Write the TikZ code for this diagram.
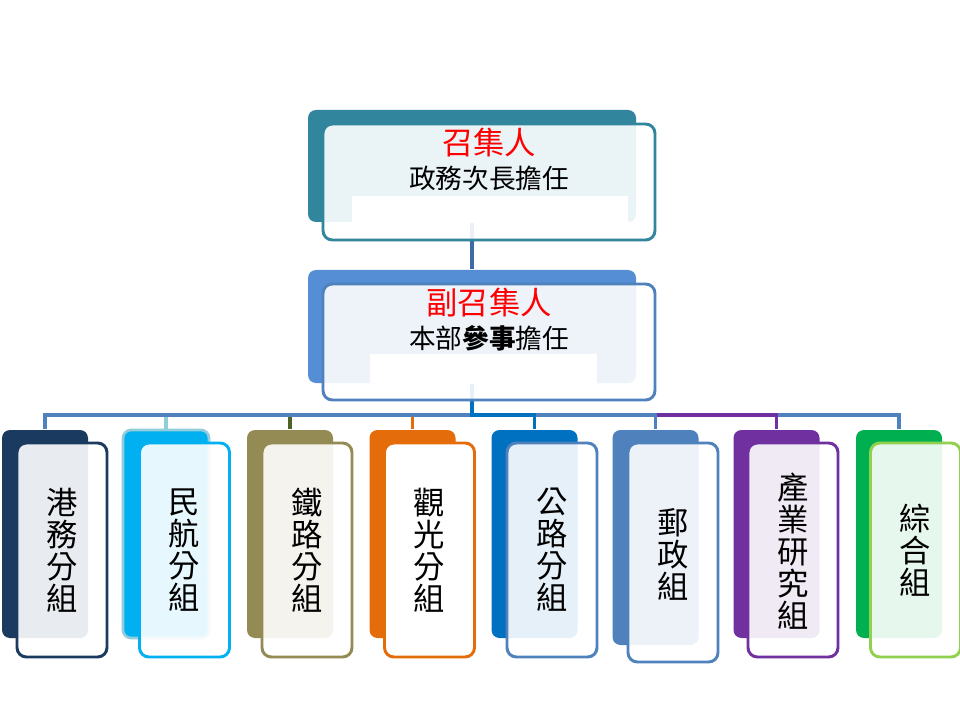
\documentclass[tikz,border=0pt]{standalone}
\usepackage{fontspec}
\setmainfont{Noto Sans CJK TC}
\usetikzlibrary{backgrounds}
\definecolor{c0}{HTML}{31859C}
\definecolor{s0}{HTML}{558ED5}
\definecolor{s0f}{HTML}{4F81BD}
\definecolor{c1}{HTML}{1B3A5F}
\definecolor{c2}{HTML}{00B0F0}
\definecolor{c2o}{HTML}{92CDDC}
\definecolor{c3}{HTML}{948A54}
\definecolor{c3s}{HTML}{4F6228}
\definecolor{c4}{HTML}{E46C0A}
\definecolor{c5}{HTML}{0070C0}
\definecolor{c5f}{HTML}{4F81BD}
\definecolor{c6}{HTML}{4F81BD}
\definecolor{c7}{HTML}{7030A0}
\definecolor{c8}{HTML}{00B050}
\definecolor{c8f}{HTML}{92D050}
\definecolor{cg}{HTML}{4F81BD}
\definecolor{ctop}{HTML}{3F6AA3}
\begin{document}
\begin{tikzpicture}[x=0.75pt,y=-0.75pt,
  back/.style={rounded corners=6pt, inner sep=0pt, line width=2pt},
  front/.style={rounded corners=7pt, line width=2.2pt, inner sep=0pt},
  conn/.style={line width=2.4pt},
  ttl/.style={font=\fontsize{23.5}{26}\selectfont, text=red, inner sep=0pt},
  sub/.style={font=\fontsize{20}{24}\selectfont, inner sep=0pt},
  vt/.style={font=\fontsize{23.5}{24}\selectfont, align=center, inner sep=0pt},
]
\begin{scope}[on background layer]
  \fill[white] (0,0) rectangle (960,720);
\end{scope}
\useasboundingbox (0,0) rectangle (960,720);

% top box
\node[back, fill=c0, minimum width=246pt, minimum height=84pt] (tb) at (472,166) {};
\node[front, draw=c0, fill=white, fill opacity=0.9, minimum width=249pt, minimum height=87pt] (tf) at (489,182) {};
\fill[white] (352,196) rectangle (628,222);
\node[ttl] (tt) at (489,143) {召集人};
\node[sub] (ts) at (489,178) {政務次長擔任};

% second box
\node[back, fill=s0, minimum width=246pt, minimum height=84.75pt] (sb) at (472,326.5) {};
\node[front, draw=s0f, fill=white, fill opacity=0.9, minimum width=249pt, minimum height=87pt] (sf) at (489,342) {};
\fill[white] (370,354) rectangle (597,383);
\node[ttl] (st) at (489,303) {副召集人};
\node[sub] (ss) at (489,338) {本部\textbf{參事}擔任};

% children
\foreach \n/\bx/\fx/\by/\bh/\fy/\fh/\bc/\bd/\fc/\op/\ty/\txt in {
  1/45/62/534/156/550/160.5/c1/none/c1/0.9/550/{港\\務\\分\\組},
  2/166/184.5/534/156/550/160.5/c2/c2o/c2/0.9/550/{民\\航\\分\\組},
  3/290/307/534/156/550/160.5/c3/none/c3/0.9/550/{鐵\\路\\分\\組},
  4/412.5/429.5/534/156/550/160.5/c4/none/c4/1/550/{觀\\光\\分\\組},
  5/534.5/552/534/156/550/160.5/c5/none/c5f/0.9/550/{公\\路\\分\\組},
  6/655.5/673/537.5/161.25/552.5/164.25/c6/none/c6/0.9/554/{郵\\政\\組},
  7/776.5/793/534/156/550/160.5/c7/none/c7/0.9/551.5/{產\\業\\研\\究\\組},
  8/899/915.5/534/156/550/160.5/c8/none/c8f/0.9/550.5/{綜\\合\\組}}
{
  \node[back, fill=\bc, draw=\bd, minimum width=64.5pt, minimum height=\bh pt] (b\n) at (\bx,\by) {};
  \node[front, draw=\fc, fill=white, fill opacity=\op, minimum width=67.5pt, minimum height=\fh pt] (f\n) at (\fx,\fy) {};
  \node[vt] (t\n) at (\fx,\ty) {\txt};
}

% connectors
\coordinate (bus) at (472,415);
\begin{scope}[on background layer]
  \draw[conn, draw=ctop] (tb.south) -- (sb.north);
  \draw[conn, draw=c4] (sb.south) -- (sb.south |- bus) -| (b4.north);
  \draw[conn, draw=c3s] (sb.south) -- (sb.south |- bus) -| (b3.north);
  \draw[conn, draw=c2o] (sb.south) -- (sb.south |- bus) -| (b2.north);
  \draw[conn, draw=cg] (sb.south) -- (sb.south |- bus) -| (b1.north);
  \draw[conn, draw=cg] (sb.south) -- (sb.south |- bus) -| (b8.north);
  \draw[conn, draw=c7] (sb.south) -- (sb.south |- bus) -| (b7.north);
  \draw[conn, draw=cg] (sb.south) -- (sb.south |- bus) -| (b6.north);
  \draw[conn, draw=c5] (sb.south) -- (sb.south |- bus) -| (b5.north);
\end{scope}
\end{tikzpicture}
\end{document}
